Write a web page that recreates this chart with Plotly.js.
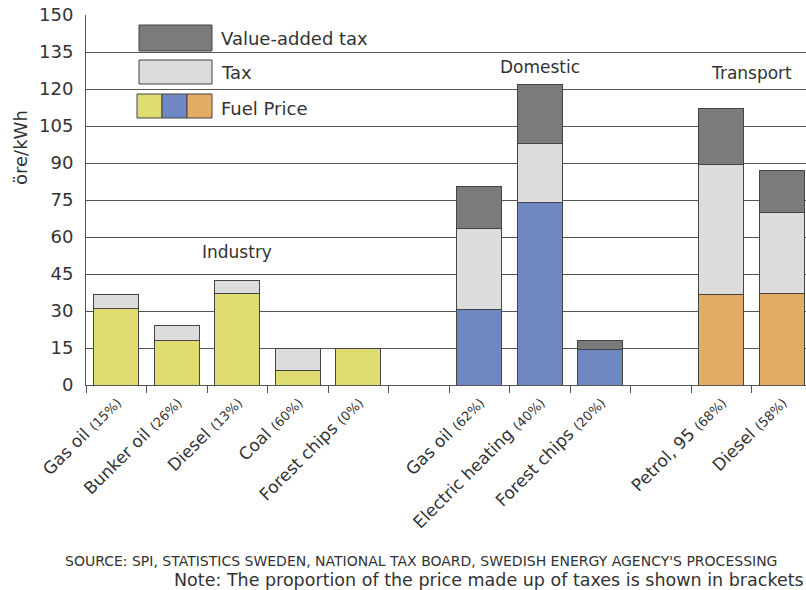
<!DOCTYPE html>
<html>
<head>
<meta charset="utf-8">
<script src="https://cdn.plot.ly/plotly-3.0.1.min.js"></script>
<style>html,body{margin:0;padding:0;background:#fff;}#chart{width:806px;height:590px;}</style>
</head>
<body>
<div id="chart"></div>
<script>
// ---- data ----
var categories = [
  "Gas oil <span style='font-size:13px'>(15%)</span>",
  "Bunker oil <span style='font-size:13px'>(26%)</span>",
  "Diesel <span style='font-size:13px'>(13%)</span>",
  "Coal <span style='font-size:13px'>(60%)</span>",
  "Forest chips <span style='font-size:13px'>(0%)</span>",
  " ",
  "Gas oil <span style='font-size:13px'>(62%)</span>",
  "Electric heating <span style='font-size:13px'>(40%)</span>",
  "Forest chips <span style='font-size:13px'>(20%)</span>",
  "  ",
  "Petrol, 95 <span style='font-size:13px'>(68%)</span>",
  "Diesel <span style='font-size:13px'>(58%)</span>"
];
var sectors = ["Industry","Industry","Industry","Industry","Industry",null,
               "Domestic","Domestic","Domestic",null,
               "Transport","Transport"];
var fuelPrice = [31, 18, 37, 6, 15, null, 30.5, 74, 14.4, null, 36.5, 37];
var tax       = [5.5, 6, 5.5, 9, null, null, 33, 24, null, null, 53, 33];
var vat       = [null, null, null, null, null, null, 17, 24, 3.6, null, 22.5, 17];
var sectorLabels = ["Industry", "Domestic", "Transport"];
var legendLabels = ["Value-added tax", "Tax", "Fuel Price"];
var yTicks = [0, 15, 30, 45, 60, 75, 90, 105, 120, 135, 150];

// ---- styles ----
var sectorColors = {Industry: "#dfdc72", Domestic: "#7088c1", Transport: "#e3ac63"};
var taxColor = "#dcdcdc", vatColor = "#7b7b7b", edge = {color: "#444", width: 1};
var FONT = "DejaVu Sans, Liberation Sans, Arial, sans-serif";

var fuelColors = sectors.map(function (s) { return s ? sectorColors[s] : "#fff"; });

var traces = [
  {type: "bar", x: categories, y: fuelPrice, name: legendLabels[2],
   marker: {color: fuelColors, line: edge}, hoverinfo: "y"},
  {type: "bar", x: categories, y: tax, name: legendLabels[1],
   marker: {color: taxColor, line: edge}, hoverinfo: "y"},
  {type: "bar", x: categories, y: vat, name: legendLabels[0],
   marker: {color: vatColor, line: edge}, hoverinfo: "y"}
];

// pixel helpers for the decorative legend (paper coords)
var W = 806, H = 590, L = 86, R = 0, T = 15, B = 205;
function px(x) { return (x - L) / (W - L - R); }
function py(y) { return 1 - (y - T) / (H - T - B); }

var shapes = [
  {type: "rect", xref: "paper", yref: "paper", x0: px(139), x1: px(212), y0: py(51), y1: py(25),
   fillcolor: vatColor, line: edge},
  {type: "rect", xref: "paper", yref: "paper", x0: px(139), x1: px(212), y0: py(84), y1: py(60),
   fillcolor: taxColor, line: edge},
  {type: "rect", xref: "paper", yref: "paper", x0: px(137), x1: px(162), y0: py(118), y1: py(94),
   fillcolor: sectorColors.Industry, line: edge},
  {type: "rect", xref: "paper", yref: "paper", x0: px(162), x1: px(187), y0: py(118), y1: py(94),
   fillcolor: sectorColors.Domestic, line: edge},
  {type: "rect", xref: "paper", yref: "paper", x0: px(187), x1: px(212), y0: py(118), y1: py(94),
   fillcolor: sectorColors.Transport, line: edge}
];

var annotations = [
  {xref: "paper", yref: "paper", x: px(219), y: py(38), text: legendLabels[0], showarrow: false,
   xanchor: "left", yanchor: "middle", font: {family: FONT, size: 18, color: "#333"}},
  {xref: "paper", yref: "paper", x: px(219), y: py(72), text: legendLabels[1], showarrow: false,
   xanchor: "left", yanchor: "middle", font: {family: FONT, size: 18, color: "#333"}},
  {xref: "paper", yref: "paper", x: px(219), y: py(108), text: legendLabels[2], showarrow: false,
   xanchor: "left", yanchor: "middle", font: {family: FONT, size: 18, color: "#333"}},
  {xref: "x", yref: "y", x: 2, y: 54, text: sectorLabels[0], showarrow: false,
   xanchor: "center", yanchor: "middle", font: {family: FONT, size: 17, color: "#333"}},
  {xref: "x", yref: "y", x: 7, y: 129, text: sectorLabels[1], showarrow: false,
   xanchor: "center", yanchor: "middle", font: {family: FONT, size: 17, color: "#333"}},
  {xref: "x", yref: "y", x: 10.5, y: 126.5, text: sectorLabels[2], showarrow: false,
   xanchor: "center", yanchor: "middle", font: {family: FONT, size: 17, color: "#333"}},
  {xref: "paper", yref: "paper", x: px(20), y: py(148), text: "öre/kWh", showarrow: false,
   textangle: -90, xanchor: "center", yanchor: "middle", font: {family: FONT, size: 18, color: "#333"}},
  {xref: "paper", yref: "paper", x: px(63), y: py(561),
   text: "SOURCE: SPI, STATISTICS SWEDEN, NATIONAL TAX BOARD, SWEDISH ENERGY AGENCY'S PROCESSING",
   showarrow: false, xanchor: "left", yanchor: "middle", font: {family: FONT, size: 14, color: "#333"}},
  {xref: "paper", yref: "paper", x: px(806), y: py(580),
   text: "Note: The proportion of the price made up of taxes is shown in brackets",
   showarrow: false, xanchor: "right", yanchor: "middle", font: {family: FONT, size: 17.5, color: "#333"}}
];

var layout = {
  width: W, height: H,
  margin: {l: L, r: R, t: T, b: B, pad: 0},
  paper_bgcolor: "#fff", plot_bgcolor: "#fff",
  barmode: "stack", bargap: 0.25,
  showlegend: false,
  font: {family: FONT, color: "#333"},
  xaxis: {
    type: "category", categoryorder: "array", categoryarray: categories,
    range: [-0.5, 11.4],
    tickangle: -45, tickson: "boundaries", ticks: "outside", ticklen: 7,
    tickcolor: "#555", showline: true, linecolor: "#555", linewidth: 1,
    showgrid: false, tickfont: {family: FONT, size: 17, color: "#333"},
    fixedrange: true
  },
  yaxis: {
    range: [0, 150], tickvals: yTicks, ticktext: yTicks.map(String),
    showgrid: true, gridcolor: "#555", gridwidth: 1,
    showline: true, linecolor: "#555", linewidth: 1,
    zeroline: false, ticks: "", ticklabelstandoff: 8,
    tickfont: {family: FONT, size: 18, color: "#333"},
    fixedrange: true
  },
  shapes: shapes,
  annotations: annotations
};

Plotly.newPlot("chart", traces, layout, {displayModeBar: false, staticPlot: true});
</script>
</body>
</html>
